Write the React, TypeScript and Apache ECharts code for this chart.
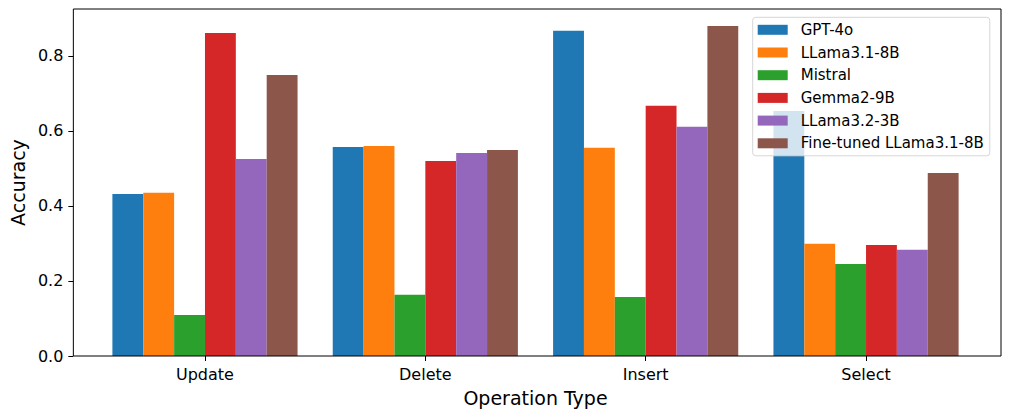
import React, { useEffect, useRef } from "react";
import * as echarts from "echarts";

const categories = ["Update", "Delete", "Insert", "Select"];
const seriesNames = ["GPT-4o", "LLama3.1-8B", "Mistral", "Gemma2-9B", "LLama3.2-3B", "Fine-tuned LLama3.1-8B"];
const gpt4o = [0.432, 0.557, 0.867, 0.653];
const llama31 = [0.435, 0.56, 0.555, 0.299];
const mistral = [0.109, 0.163, 0.157, 0.245];
const gemma2 = [0.861, 0.52, 0.667, 0.296];
const llama32 = [0.525, 0.541, 0.611, 0.283];
const fineTuned = [0.749, 0.549, 0.88, 0.488];
const colors = ["#1f77b4", "#ff7f0e", "#2ca02c", "#d62728", "#9467bd", "#8c564b"];
const yTickValues = [0, 0.2, 0.4, 0.6, 0.8];
const yTicks = ["0.0", "0.2", "0.4", "0.6", "0.8"];

const FONT = "DejaVu Sans";

export default function App() {
  const ref = useRef<HTMLDivElement>(null);
  useEffect(() => {
    if (!ref.current) return;
    const chart = echarts.init(ref.current, null, { renderer: "svg" });
    const allData = [gpt4o, llama31, mistral, gemma2, llama32, fineTuned];
    const yMax = 0.925;
    chart.setOption({
      animation: false,
      textStyle: { fontFamily: FONT },
      grid: [
        {
          left: 71, right: 9, top: 9, bottom: 62,
          show: true, borderColor: "#000", borderWidth: 1,
          backgroundColor: "transparent", z: 5,
        },
        { left: 94.8, right: 33.8, top: 9, bottom: 62 },
      ],
      xAxis: [
        { type: "value", gridIndex: 0, min: 0, max: 1, show: false },
        {
          type: "category", gridIndex: 1, data: categories,
          axisLine: { show: false },
          axisTick: { show: true, alignWithLabel: true, length: 5, lineStyle: { color: "#000", width: 1 } },
          axisLabel: { color: "#000", fontSize: 16, fontFamily: FONT, margin: 10 },
          name: "Operation Type", nameLocation: "middle", nameGap: 32,
          nameTextStyle: { color: "#000", fontSize: 19, fontFamily: FONT },
        },
      ],
      yAxis: [
        {
          type: "value", gridIndex: 0, min: 0, max: yMax,
          axisLine: { show: false },
          splitLine: { show: false },
          axisTick: {
            show: true, length: 5, lineStyle: { color: "#000", width: 1 },
            customValues: yTickValues,
          },
          axisLabel: {
            color: "#000", fontSize: 16, fontFamily: FONT, margin: 10,
            customValues: yTickValues,
            formatter: (v: number) => yTicks[Math.round(v / 0.2)] ?? "",
          },
          name: "Accuracy", nameLocation: "middle", nameGap: 36,
          nameTextStyle: { color: "#000", fontSize: 19, fontFamily: FONT },
        },
        { type: "value", gridIndex: 1, min: 0, max: yMax, show: false },
      ],
      legend: {
        orient: "vertical",
        left: 752.7, top: 17.3,
        width: 240,
        padding: [5, 6, 5, 5],
        itemWidth: 30, itemHeight: 10, itemGap: 7.7,
        icon: "rect",
        backgroundColor: "rgba(255,255,255,0.8)",
        borderColor: "#d6d6d6", borderWidth: 1, borderRadius: 3,
        textStyle: { fontSize: 15, fontFamily: FONT, color: "#000", lineHeight: 15, padding: [0, 0, 0, 8] },
        data: seriesNames,
      },
      series: seriesNames.map((name, i) => ({
        name,
        type: "bar",
        xAxisIndex: 1, yAxisIndex: 1,
        data: allData[i],
        barWidth: 30.86,
        barGap: "0%",
        itemStyle: { color: colors[i] },
      })),
    });
    return () => chart.dispose();
  }, []);
  return <div ref={ref} style={{ width: 1010, height: 418, marginLeft: -8, marginTop: -8 }} />;
}
